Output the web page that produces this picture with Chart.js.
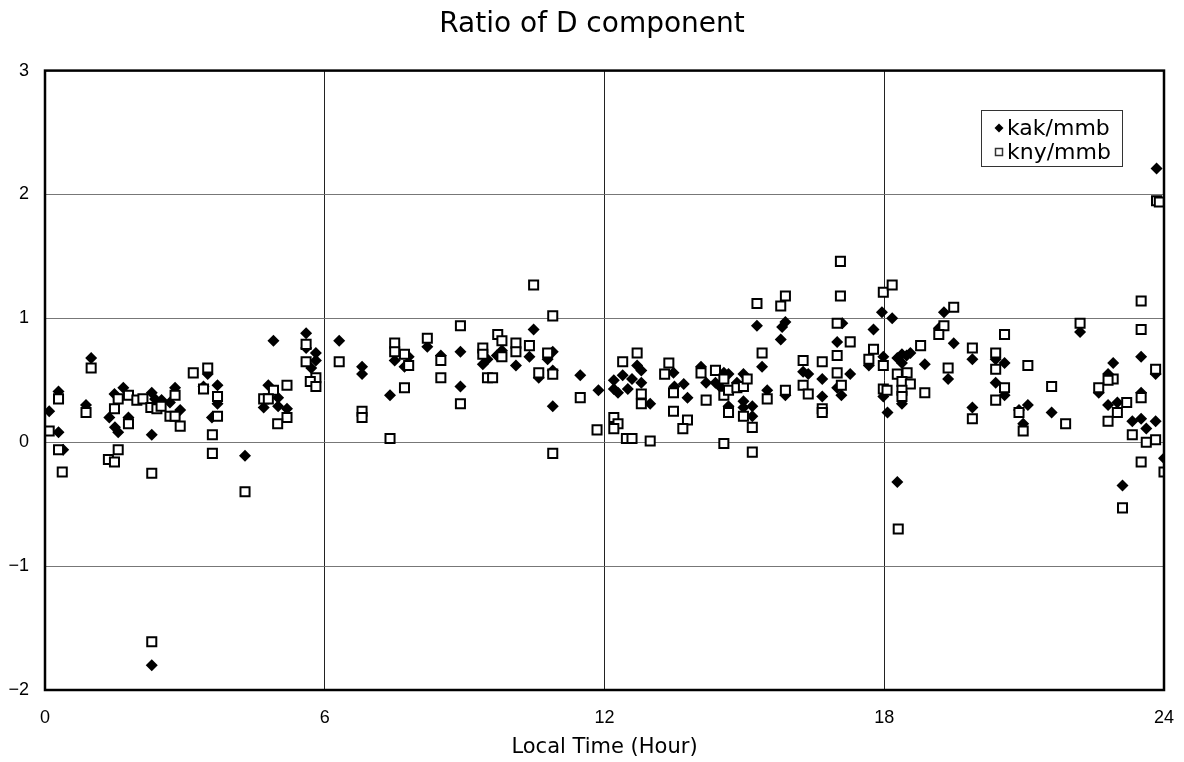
<!DOCTYPE html>
<html lang="en">
<head>
<meta charset="UTF-8">
<title>Ratio of D component</title>
<script src="https://cdn.jsdelivr.net/npm/chart.js@4.4.1/dist/chart.umd.min.js"></script>
<style>
  html, body { margin: 0; padding: 0; background: #fff; }
  #wrap { width: 1184px; height: 762px; }
</style>
</head>
<body>
<div id="wrap"><canvas id="chart" width="1184" height="762"></canvas></div>
<script>
// kak/mmb (filled diamonds): local time (hour) and ratio
const kakHour = [0.09, 0.29, 0.29, 0.39, 0.99, 0.88, 1.38, 1.50, 1.57, 1.49, 1.68, 1.79, 2.29, 2.36, 2.50, 2.29, 2.29, 2.68, 2.79, 2.90,
  3.40, 3.49, 3.70, 3.70, 3.58, 4.29, 4.90, 4.79, 4.69, 5.00, 5.00, 5.19, 5.60, 5.60, 5.81, 5.81, 5.71, 6.31, 6.80, 6.80,
  7.40, 7.50, 7.80, 7.71, 8.20, 8.49, 8.91, 8.91, 9.39, 9.49, 9.80, 9.69, 10.10, 10.39, 10.48, 10.78, 10.89, 10.59, 10.89, 10.89,
  11.48, 11.87, 12.20, 12.20, 12.29, 12.39, 12.50, 12.59, 12.70, 12.79, 12.79, 12.98, 13.48, 13.50, 13.70, 13.78, 14.07, 14.18, 14.38, 14.56,
  14.66, 14.50, 14.84, 14.98, 14.66, 14.98, 14.98, 15.17, 15.17, 15.27, 15.38, 15.49, 15.78, 15.81, 15.88, 15.88, 16.26, 16.37, 16.67, 16.67,
  16.99, 17.10, 16.99, 17.08, 17.27, 17.77, 17.67, 17.95, 18.17, 17.98, 18.28, 18.38, 18.56, 18.38, 18.48, 18.38, 17.98, 18.07, 18.28, 18.87,
  19.28, 19.17, 19.49, 19.37, 19.89, 19.89, 20.39, 20.58, 20.39, 20.58, 21.08, 20.89, 20.98, 21.59, 22.20, 22.91, 22.80, 22.60, 22.80, 23.00,
  23.11, 23.51, 23.51, 23.32, 23.51, 23.62, 23.82, 23.82, 24.00, 23.84];
const kakRatio = [0.25, 0.41, 0.08, -0.06, 0.68, 0.30, 0.20, 0.12, 0.08, 0.39, 0.44, 0.20, 0.40, 0.35, 0.34, 0.06, -1.80, 0.32, 0.44, 0.26,
  0.45, 0.55, 0.46, 0.31, 0.20, -0.11, 0.82, 0.46, 0.28, 0.36, 0.29, 0.27, 0.88, 0.76, 0.72, 0.66, 0.60, 0.82, 0.61, 0.55,
  0.38, 0.66, 0.69, 0.61, 0.77, 0.70, 0.73, 0.45, 0.63, 0.67, 0.74, 0.70, 0.62, 0.69, 0.91, 0.67, 0.73, 0.52, 0.58, 0.29,
  0.54, 0.42, 0.50, 0.43, 0.40, 0.54, 0.43, 0.51, 0.62, 0.58, 0.48, 0.31, 0.56, 0.45, 0.47, 0.36, 0.61, 0.48, 0.48, 0.56,
  0.55, 0.44, 0.48, 0.55, 0.29, 0.33, 0.28, 0.29, 0.21, 0.94, 0.61, 0.42, 0.83, 0.93, 0.97, 0.38, 0.57, 0.55, 0.51, 0.37,
  0.81, 0.96, 0.44, 0.38, 0.55, 0.91, 0.62, 1.05, 1.00, 0.69, 0.68, 0.71, 0.72, 0.64, 0.70, 0.31, 0.37, 0.24, -0.32, 0.63,
  1.05, 0.92, 0.80, 0.51, 0.67, 0.28, 0.67, 0.64, 0.48, 0.38, 0.30, 0.26, 0.15, 0.24, 0.89, 0.64, 0.55, 0.40, 0.30, 0.32,
  -0.35, 0.69, 0.40, 0.17, 0.19, 0.11, 0.17, 0.55, -0.13, 2.21];

// kny/mmb (open squares)
const knyHour = [0.09, 0.29, 0.29, 0.37, 0.99, 0.88, 1.49, 1.57, 1.79, 1.79, 1.57, 1.36, 1.49, 1.97, 2.10, 2.27, 2.40, 2.49, 2.29, 2.29,
  2.79, 2.68, 2.79, 2.90, 3.18, 3.40, 3.49, 3.70, 3.70, 3.59, 3.59, 4.29, 4.90, 4.69, 4.79, 5.19, 5.19, 4.99, 5.60, 5.60,
  5.81, 5.69, 5.81, 6.31, 6.80, 6.80, 7.40, 7.50, 7.50, 7.71, 7.80, 7.71, 8.20, 8.49, 8.49, 8.91, 8.91, 9.39, 9.39, 9.49,
  9.60, 9.71, 9.80, 9.80, 10.10, 10.10, 10.39, 10.48, 10.78, 10.59, 10.89, 10.89, 10.89, 11.48, 11.84, 12.39, 12.70, 12.79, 12.79, 12.20,
  12.29, 12.20, 12.47, 12.59, 12.98, 13.38, 13.29, 13.48, 13.48, 13.78, 13.68, 14.07, 14.18, 14.38, 14.56, 14.56, 14.66, 14.84, 14.98, 15.06,
  14.66, 14.98, 15.17, 14.56, 15.17, 15.27, 15.38, 15.49, 15.78, 15.88, 15.88, 16.26, 16.26, 16.37, 16.67, 16.67, 16.67, 16.99, 16.99, 16.99,
  17.08, 17.06, 17.06, 17.27, 17.77, 17.67, 17.98, 18.17, 17.98, 18.78, 18.28, 18.49, 18.38, 18.56, 18.38, 18.38, 17.98, 18.06, 18.87, 18.30,
  19.49, 19.28, 19.17, 19.37, 19.89, 19.89, 20.39, 20.39, 20.58, 20.58, 20.39, 21.08, 20.89, 20.98, 21.59, 21.89, 22.20, 22.91, 22.80, 22.60,
  23.20, 23.00, 22.80, 23.11, 23.51, 23.51, 23.51, 23.32, 23.62, 23.82, 23.51, 23.82, 24.00, 23.84, 23.90];
const knyRatio = [0.09, 0.35, -0.06, -0.24, 0.60, 0.24, 0.27, 0.35, 0.38, 0.15, -0.06, -0.14, -0.16, 0.34, 0.35, 0.28, 0.27, 0.29, -0.25, -1.61,
  0.38, 0.21, 0.21, 0.13, 0.56, 0.43, 0.60, 0.37, 0.21, 0.06, -0.09, -0.40, 0.42, 0.35, 0.35, 0.46, 0.20, 0.15, 0.79, 0.65,
  0.52, 0.49, 0.45, 0.65, 0.25, 0.20, 0.03, 0.80, 0.73, 0.71, 0.62, 0.44, 0.84, 0.66, 0.52, 0.94, 0.31, 0.76, 0.71, 0.52,
  0.52, 0.87, 0.82, 0.69, 0.80, 0.73, 0.78, 1.27, 0.72, 0.56, 0.55, 1.02, -0.09, 0.36, 0.10, 0.65, 0.72, 0.39, 0.31, 0.20,
  0.15, 0.11, 0.03, 0.03, 0.01, 0.64, 0.55, 0.40, 0.25, 0.18, 0.11, 0.56, 0.34, 0.58, 0.51, 0.38, 0.42, 0.44, 0.45, 0.51,
  0.24, 0.21, 0.12, -0.01, -0.08, 1.12, 0.72, 0.35, 1.10, 1.18, 0.42, 0.66, 0.46, 0.39, 0.65, 0.27, 0.24, 0.70, 0.96, 0.56,
  0.46, 1.46, 1.18, 0.81, 0.75, 0.67, 1.21, 1.27, 0.62, 0.78, 0.55, 0.56, 0.49, 0.47, 0.42, 0.37, 0.43, 0.42, 0.40, -0.70,
  1.09, 0.94, 0.87, 0.60, 0.76, 0.19, 0.72, 0.59, 0.87, 0.44, 0.34, 0.62, 0.24, 0.09, 0.45, 0.15, 0.96, 0.51, 0.50, 0.44,
  0.32, 0.24, 0.17, -0.53, 1.14, 0.91, 0.36, 0.06, 0.00, 0.02, -0.16, 0.59, -0.24, 1.95, 1.94];

const xTicks = [0, 6, 12, 18, 24];
const yTicks = [-2, -1, 0, 1, 2, 3];

const FONT = "'Liberation Sans', Arial, sans-serif";
const WIDE = "'DejaVu Sans', 'Liberation Sans', sans-serif";

function toPoints(xs, ys) {
  return xs.map((x, i) => ({ x: x, y: ys[i] }));
}

// frame round the plot area + legend box inside it (top right)
const framePlugin = {
  id: 'frame',
  afterDraw(chart) {
    const ctx = chart.ctx;
    const a = chart.chartArea;
    ctx.save();
    ctx.strokeStyle = '#000';
    ctx.lineWidth = 2.5;
    ctx.strokeRect(a.left, a.top, a.right - a.left, a.bottom - a.top);

    // legend
    const bx = 981, by = 110, bw = 141, bh = 56;
    ctx.fillStyle = '#fff';
    ctx.fillRect(bx, by, bw, bh);
    ctx.lineWidth = 1;
    ctx.strokeStyle = '#333';
    ctx.strokeRect(bx + 0.5, by + 0.5, bw, bh);
    ctx.font = '22px ' + WIDE;
    ctx.textBaseline = 'middle';
    ctx.fillStyle = '#000';
    const rows = [128, 152];
    chart.data.datasets.forEach((ds, i) => {
      const y = rows[i];
      const sx = 999;
      ctx.beginPath();
      if (ds.pointStyle === 'rectRot') {
        ctx.moveTo(sx, y - 4.5);
        ctx.lineTo(sx + 4.5, y);
        ctx.lineTo(sx, y + 4.5);
        ctx.lineTo(sx - 4.5, y);
        ctx.closePath();
        ctx.fill();
      } else {
        ctx.lineWidth = 1.5;
        ctx.strokeRect(sx - 3.5, y - 3.5, 7, 7);
      }
      ctx.fillText(ds.label, 1007, y + 1);
    });
    ctx.restore();
  }
};

new Chart(document.getElementById('chart'), {
  type: 'scatter',
  data: {
    datasets: [
      {
        label: 'kak/mmb',
        data: toPoints(kakHour, kakRatio),
        pointStyle: 'rectRot',
        pointRadius: 6,
        backgroundColor: '#000',
        borderColor: '#000',
        borderWidth: 0,
        order: 2
      },
      {
        label: 'kny/mmb',
        data: toPoints(knyHour, knyRatio),
        pointStyle: 'rect',
        pointRadius: 6.4,
        backgroundColor: '#fff',
        borderColor: '#000',
        borderWidth: 2,
        order: 1
      }
    ]
  },
  options: {
    responsive: false,
    animation: false,
    layout: { padding: 0 },
    plugins: {
      legend: { display: false },
      tooltip: { enabled: false },
      title: {
        display: true,
        text: 'Ratio of D component',
        color: '#000',
        font: { family: WIDE, size: 28, weight: 'normal' },
        padding: { top: 8, bottom: 29 }
      }
    },
    scales: {
      x: {
        type: 'linear',
        min: 0,
        max: 24,
        afterBuildTicks(scale) {
          scale.ticks = xTicks.map(v => ({ value: v }));
        },
        afterFit(scale) {
          scale.height = 72;
          scale.paddingLeft = 0;
          scale.paddingRight = 20;
        },
        grid: { color: '#222', lineWidth: 1, drawTicks: false, tickLength: 0 },
        border: { display: false },
        ticks: {
          color: '#000',
          padding: 17,
          maxRotation: 0,
          font: { family: FONT, size: 18 }
        },
        title: {
          display: true,
          text: 'Local Time (Hour)',
          color: '#000',
          font: { family: WIDE, size: 21 },
          padding: { top: 2, bottom: 2 }
        }
      },
      y: {
        type: 'linear',
        min: -2,
        max: 3,
        afterBuildTicks(scale) {
          scale.ticks = yTicks.map(v => ({ value: v }));
        },
        afterFit(scale) { scale.width = 45; },
        grid: { color: '#777', lineWidth: 1, drawTicks: false, tickLength: 0 },
        border: { display: false },
        ticks: {
          color: '#000',
          padding: 16,
          font: { family: FONT, size: 18 },
          callback: v => (v < 0 ? '\u2212' + Math.abs(v) : String(v))
        }
      }
    }
  },
  plugins: [framePlugin]
});
</script>
</body>
</html>
